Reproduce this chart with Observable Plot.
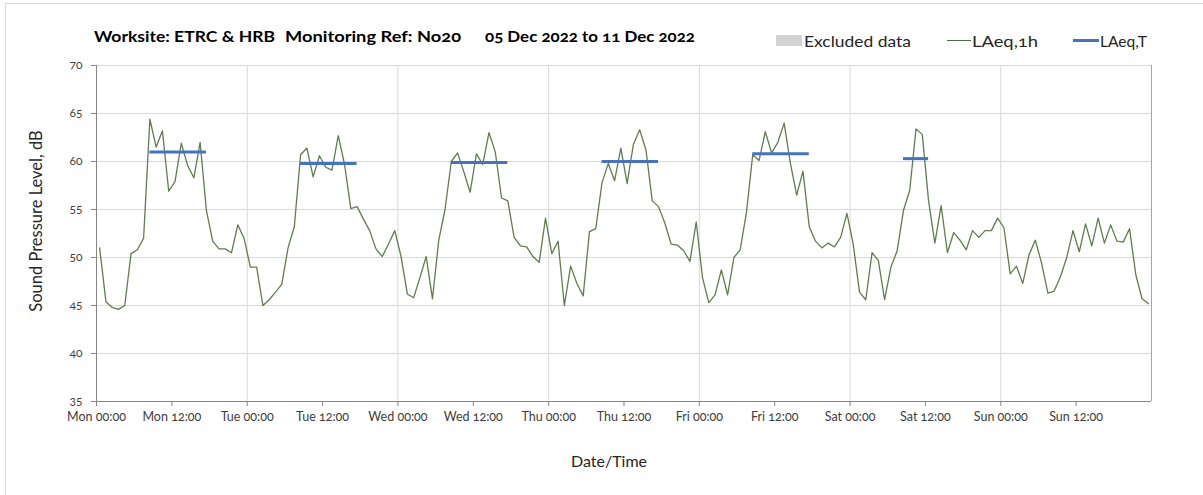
<!DOCTYPE html>
<html>
<head>
<meta charset="utf-8">
<script src="https://cdn.jsdelivr.net/npm/d3@7"></script>
<script src="https://cdn.jsdelivr.net/npm/@observablehq/plot@0.6"></script>
<style>
  html, body { margin: 0; padding: 0; background: #fff; }
  #wrap { position: relative; width: 1203px; height: 495px; overflow: hidden; font-family: Lato, "Open Sans", sans-serif; font-variant-numeric: oldstyle-nums; }
  #frame { position: absolute; left: 5px; top: 3px; width: 1300px; height: 600px; border-left: 1px solid #d9d9d9; border-top: 1px solid #d9d9d9; }
  #header { position: relative; height: 52px; }
  .t { position: absolute; white-space: nowrap; transform-origin: left center; }
  .title { font-weight: 700; font-size: 15px; color: #000; top: 27px; }
  .leg { font-size: 16px; color: #262626; top: 31px; }
  .sw { position: absolute; }
  #ylab { position: absolute; left: 36px; top: 221px; transform: translate(-50%, -50%) rotate(-90deg); font-size: 16.5px; color: #262626; white-space: nowrap; }
  #xlab { position: absolute; left: 609px; top: 460px; transform: translate(-50%, -50%); font-size: 16px; color: #262626; white-space: nowrap; }
  svg text { font-variant-numeric: oldstyle-nums; }
</style>
</head>
<body>
<div id="wrap">
  <div id="frame"></div>
  <div id="header">
    <span class="t title" id="t1">Worksite: ETRC &amp; HRB</span>
    <span class="t title" id="t2">Monitoring Ref: No20</span>
    <span class="t title" id="t3">05 Dec 2022 to 11 Dec 2022</span>
    <div class="sw" style="left:776px;top:35px;width:26px;height:11px;background:#d3d3d3"></div>
    <span class="t leg" id="l1">Excluded data</span>
    <div class="sw" style="left:947px;top:40px;width:24px;height:1.3px;background:#4f6f3c"></div>
    <span class="t leg" id="l2">LAeq,1h</span>
    <div class="sw" style="left:1073px;top:39px;width:26px;height:3px;background:#4472c4"></div>
    <span class="t leg" id="l3">LAeq,T</span>
  </div>
  <div id="chart"></div>
  <div id="ylab">Sound Pressure Level, dB</div>
  <div id="xlab">Date/Time</div>
</div>
<script>
// Hourly LAeq,1h values, Mon 00:00 (index 0) to Sun 23:00 (index 167)
const laeq1h = [
  51.0, 45.4, 44.8, 44.6, 45.0, 50.4, 50.8, 52.0, 64.4, 61.5, 63.2, 56.9, 57.9, 61.9, 59.6, 58.3,
  62.0, 54.9, 51.7, 50.9, 50.9, 50.5, 53.4, 52.0,
  49.0, 49.0, 45.0, 45.6, 46.4, 47.2, 51.0, 53.2, 60.7, 61.4, 58.4, 60.6, 59.4, 59.1, 62.7, 59.7,
  55.1, 55.3, 54.0, 52.8, 50.9, 50.1, 51.4, 52.8,
  50.1, 46.2, 45.8, 47.9, 50.1, 45.7, 51.8, 55.0, 60.0, 60.9, 58.9, 56.8, 60.8, 59.7, 63.0, 61.0,
  56.2, 55.9, 52.1, 51.2, 51.1, 50.1, 49.5, 54.1,
  50.4, 51.7, 45.0, 49.1, 47.3, 46.0, 52.7, 53.0, 57.8, 59.8, 58.0, 61.4, 57.7, 61.8, 63.3, 61.2,
  55.9, 55.3, 53.6, 51.4, 51.3, 50.7, 49.6, 53.7,
  47.9, 45.3, 46.1, 48.7, 46.1, 50.0, 50.8, 54.7, 60.7, 60.1, 63.1, 60.9, 62.0, 64.0, 59.8, 56.5,
  59.0, 53.2, 51.7, 51.0, 51.5, 51.1, 52.1, 54.6,
  51.4, 46.4, 45.6, 50.5, 49.7, 45.6, 49.0, 50.7, 54.9, 57.0, 63.4, 62.8, 55.9, 51.5, 55.4, 50.5,
  52.6, 51.8, 50.8, 52.8, 52.1, 52.8, 52.8, 54.1,
  53.1, 48.3, 49.1, 47.3, 50.3, 51.8, 49.4, 46.3, 46.5, 48.0, 50.0, 52.8, 50.6, 53.5, 51.2, 54.1,
  51.5, 53.4, 51.7, 51.6, 53.0, 48.2, 45.7, 45.2
];

// LAeq,T daytime periods (first and last hour index) and values
const periodStart = [8, 32, 56, 80, 104, 128];
const periodEnd   = [17, 41, 65, 89, 113, 132];
const laeqT       = [61.0, 59.8, 59.9, 60.0, 60.8, 60.3];

const xTicks = [0, 12, 24, 36, 48, 60, 72, 84, 96, 108, 120, 132, 144, 156];
const xTickLabels = ["Mon 00:00", "Mon 12:00", "Tue 00:00", "Tue 12:00", "Wed 00:00", "Wed 12:00",
  "Thu 00:00", "Thu 12:00", "Fri 00:00", "Fri 12:00", "Sat 00:00", "Sat 12:00", "Sun 00:00", "Sun 12:00"];
const dayLines = [24, 48, 72, 96, 120, 144];
const yTicks = [35, 40, 45, 50, 55, 60, 65, 70];

const hourly = laeq1h.map((v, i) => ({x: i + 0.5, y: v}));
const periods = laeqT.map((v, i) => ({x1: periodStart[i] + 0.5, x2: periodEnd[i] + 0.5, y: v}));
const labelOf = new Map(xTicks.map((t, i) => [t, xTickLabels[i]]));

const chart = Plot.plot({
  width: 1203,
  height: 443,
  marginTop: 13,
  marginBottom: 94,
  marginLeft: 96,
  marginRight: 52,
  style: {fontFamily: "Lato, 'Open Sans', sans-serif", background: "transparent"},
  x: {domain: [0, 168]},
  y: {domain: [35, 70]},
  marks: [
    Plot.gridY(yTicks, {stroke: "#d9d9d9", strokeOpacity: 1, strokeWidth: 1}),
    Plot.gridX(dayLines, {stroke: "#d9d9d9", strokeOpacity: 1, strokeWidth: 1}),
    Plot.ruleX([168], {stroke: "#a6a6a6"}),
    Plot.ruleX([0], {stroke: "#868686"}),
    Plot.ruleY([35], {stroke: "#868686"}),
    Plot.axisY(yTicks, {tickSize: 5, tickPadding: 9, stroke: "#868686", fontSize: 12, color: "#404040", label: null, tickFormat: d => String(d)}),
    Plot.axisX(xTicks, {tickSize: 5, tickPadding: 6, stroke: "#868686", fontSize: 12.5, color: "#404040", label: null, tickFormat: d => labelOf.get(d)}),
    Plot.line(hourly, {x: "x", y: "y", stroke: "#4f6f3c", strokeWidth: 1.3, strokeOpacity: 0.9}),
    Plot.ruleY(periods, {x1: "x1", x2: "x2", y: "y", stroke: "#4472c4", strokeWidth: 3})
  ]
});
document.getElementById("chart").appendChild(chart);

function fit(id, left, width) {
  const el = document.getElementById(id);
  el.style.left = left + "px";
  const w = el.getBoundingClientRect().width;
  el.style.transform = `scaleX(${width / w})`;
}
fit("t1", 94, 181);
fit("t2", 285, 176);
fit("t3", 485, 210);
fit("l1", 804, 107);
fit("l2", 972, 66);
fit("l3", 1100, 47);
</script>
</body>
</html>
